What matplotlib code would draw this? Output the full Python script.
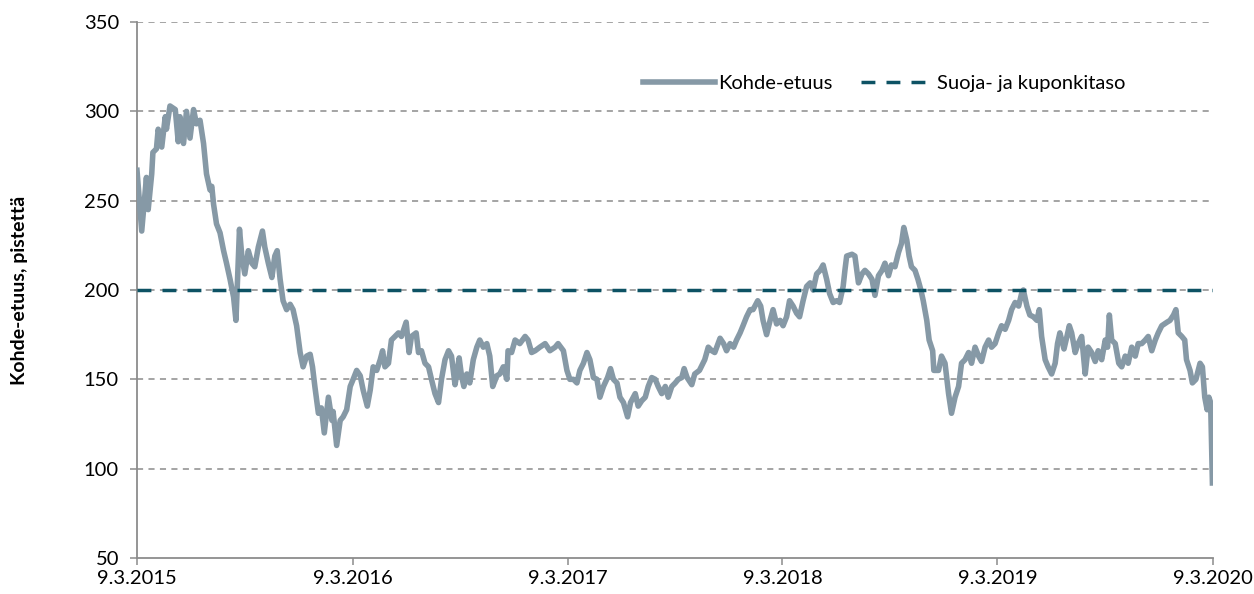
import numpy as np
import pandas as pd
import matplotlib
matplotlib.use("Agg")
import matplotlib.pyplot as plt
import matplotlib.dates as mdates

plt.rcParams['font.family'] = ['Lato', 'DejaVu Sans']

start = pd.Timestamp("2015-03-09")
end = pd.Timestamp("2020-03-09")

# days since 9.3.2015 and index level
days = [0, 8, 16, 19, 25, 27, 33, 36, 42, 48, 50, 56, 65, 70, 73, 79, 84, 90, 96, 101,
        107, 113, 118, 124, 127, 130, 135, 141, 147, 152, 158, 164, 168, 174, 178, 183, 189, 195, 200, 206,
        213, 217, 223, 229, 234, 238, 243, 248, 254, 260, 265, 271, 277, 282, 288, 294, 298, 302, 308, 313,
        318, 325, 331, 333, 339, 345, 350, 356, 362, 367, 373, 379, 384, 391, 396, 401, 407, 413, 417, 421,
        427, 432, 438, 444, 449, 457, 462, 466, 474, 478, 483, 489, 495, 500, 506, 512, 517, 523, 529, 534,
        540, 543, 547, 551, 555, 560, 565, 571, 577, 582, 588, 594, 599, 604, 611, 616, 622, 628, 630, 636,
        642, 650, 659, 664, 670, 676, 684, 693, 701, 710, 715, 724, 730, 735, 741, 747, 752, 758, 764, 769,
        775, 781, 786, 792, 799, 804, 809, 815, 820, 826, 833, 838, 846, 851, 857, 863, 868, 874, 880, 885,
        891, 897, 902, 908, 914, 919, 925, 929, 934, 942, 947, 955, 964, 970, 976, 981, 990, 996, 1001, 1007,
        1013, 1018, 1024, 1029, 1035, 1041, 1046, 1054, 1059, 1063, 1069, 1075, 1080, 1086, 1092, 1097, 1103, 1108, 1114, 1120,
        1125, 1131, 1137, 1143, 1148, 1154, 1160, 1165, 1171, 1176, 1182, 1188, 1193, 1199, 1202, 1205, 1214, 1219, 1225, 1231,
        1236, 1242, 1248, 1253, 1259, 1265, 1270, 1276, 1281, 1287, 1293, 1298, 1302, 1307, 1311, 1315, 1321, 1326, 1331, 1335,
        1341, 1345, 1351, 1353, 1361, 1366, 1372, 1378, 1383, 1389, 1395, 1400, 1406, 1412, 1417, 1423, 1429, 1434, 1440, 1446,
        1451, 1457, 1463, 1468, 1474, 1480, 1485, 1491, 1497, 1502, 1505, 1511, 1516, 1522, 1528, 1532, 1536, 1542, 1547, 1553,
        1559, 1563, 1567, 1574, 1579, 1583, 1587, 1593, 1598, 1604, 1610, 1615, 1621, 1627, 1632, 1638, 1644, 1648, 1651, 1655,
        1661, 1667, 1672, 1678, 1683, 1689, 1695, 1700, 1706, 1712, 1717, 1723, 1729, 1734, 1740, 1749, 1754, 1760, 1764, 1768,
        1774, 1779, 1782, 1788, 1792, 1798, 1805, 1809, 1813, 1817, 1820, 1823, 1826]
level = [267, 233, 263, 245, 265, 277, 279, 290, 280, 297, 290, 303, 301, 283, 297, 282, 300, 285, 301, 293,
         295, 282, 265, 256, 258, 248, 237, 232, 222, 215, 206, 196, 183, 234, 219, 209, 222, 215, 213, 224,
         233, 224, 215, 207, 219, 222, 206, 194, 189, 192, 189, 180, 165, 157, 163, 164, 157, 146, 131, 134,
         120, 140, 127, 132, 113, 127, 129, 133, 146, 150, 155, 152, 144, 135, 144, 157, 155, 161, 166, 157,
         159, 172, 174, 176, 174, 182, 165, 174, 176, 165, 166, 159, 157, 150, 142, 137, 150, 161, 166, 163,
         147, 153, 162, 152, 146, 153, 148, 161, 168, 172, 168, 170, 163, 146, 152, 153, 157, 150, 166, 165,
         172, 170, 174, 172, 165, 166, 168, 170, 166, 168, 170, 166, 155, 150, 150, 148, 155, 159, 165, 161,
         151, 150, 140, 146, 151, 156, 150, 148, 140, 137, 129, 137, 142, 135, 138, 140, 146, 151, 150, 146,
         142, 146, 140, 146, 148, 150, 151, 156, 151, 147, 153, 155, 161, 168, 166, 165, 173, 170, 166, 170,
         168, 172, 176, 180, 185, 189, 189, 194, 191, 183, 175, 183, 189, 181, 183, 180, 185, 194, 191, 187,
         185, 194, 202, 204, 200, 209, 211, 214, 206, 198, 193, 194, 193, 202, 211, 219, 220, 219, 204, 209,
         211, 209, 206, 197, 208, 211, 215, 208, 214, 213, 221, 226, 235, 228, 219, 213, 211, 206, 200, 194,
         183, 172, 166, 155, 155, 163, 159, 142, 131, 140, 146, 159, 161, 165, 159, 168, 163, 160, 168, 172,
         168, 170, 176, 180, 178, 183, 189, 193, 191, 198, 200, 191, 186, 185, 183, 189, 174, 161, 157, 153,
         159, 170, 176, 167, 174, 180, 176, 165, 170, 174, 153, 168, 165, 160, 166, 161, 172, 168, 186, 172,
         170, 159, 157, 163, 159, 168, 163, 170, 170, 172, 174, 166, 172, 176, 180, 182, 183, 186, 189, 176,
         174, 172, 161, 155, 148, 150, 159, 157, 140, 133, 140, 137, 92]
barrier = 200
yticks = [50, 100, 150, 200, 250, 300, 350]
xticks = ["2015-03-09", "2016-03-09", "2017-03-09", "2018-03-09", "2019-03-09", "2020-03-09"]

dates = start + pd.to_timedelta(days, unit="D")

fig = plt.figure(figsize=(12.54, 5.94), dpi=100)
ax = fig.add_axes([137/1254, 36/594, 1076/1254, 536/594])

ax.plot(dates, level, color="#8699a6", lw=4.0, solid_joinstyle="round",
        label="Kohde-etuus", zorder=3)
ax.plot([start, end], [barrier, barrier], color="#0d5264", lw=2.5,
        dashes=(4, 3.2), label="Suoja- ja kuponkitaso", zorder=4)

ax.set_xlim(start, end)
ax.set_ylim(50, 350)
ax.set_yticks(yticks)
for y in yticks[1:]:
    ax.axhline(y, color="#8c8c8c", lw=1.1, dashes=(4, 3.5), zorder=1)

xt = pd.to_datetime(xticks)
ax.set_xticks(xt)
ax.set_xticklabels([f"{d.day}.{d.month}.{d.year}" for d in xt])

for s in ["top", "right"]:
    ax.spines[s].set_visible(False)
for s in ["left", "bottom"]:
    ax.spines[s].set_color("#8c8c8c")
    ax.spines[s].set_linewidth(1.3)
ax.tick_params(axis="both", colors="#8c8c8c", labelcolor="black", labelsize=14.5,
               length=5, width=1.1, direction="out")
ax.tick_params(axis="y", pad=8)
ax.tick_params(axis="x", pad=4)

ax.set_ylabel("Kohde-etuus, pistettä", fontsize=14, fontweight="bold")
ax.yaxis.set_label_coords(-0.101, 0.5)

leg = ax.legend(loc="upper right", bbox_to_anchor=(0.935, 0.935), ncol=2, frameon=False,
                fontsize=14.5, handlelength=3.6, handletextpad=0.15, columnspacing=1.4)

fig.savefig("out.png", dpi=100)
